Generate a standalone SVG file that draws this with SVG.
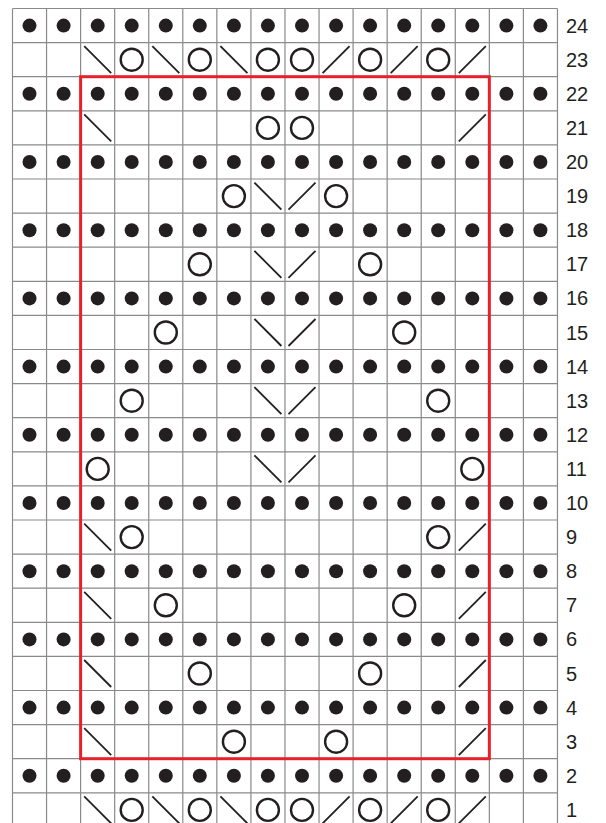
<svg xmlns="http://www.w3.org/2000/svg" xmlns:xlink="http://www.w3.org/1999/xlink" width="606" height="823" viewBox="0 0 606 823">
<style>
.grid{fill:none;stroke:#8a8a8a;stroke-width:1.2}
.dot{fill:#231f20}
.yo{fill:none;stroke:#231f20;stroke-width:2.4}
.dec{stroke:#231f20;stroke-width:1.8;stroke-linecap:butt}
.num{font-family:"Liberation Sans",Arial,sans-serif;font-size:20px;fill:#231f20}
.frame{fill:none;stroke:#e8202a;stroke-width:3}
</style>
<defs>
<circle id="d" class="dot" r="7"/>
<circle id="o" class="yo" r="11"/>
<line id="ssk" class="dec" x1="-13.5" y1="-13.5" x2="13.5" y2="13.5"/>
<line id="k2" class="dec" x1="-13.5" y1="13.5" x2="13.5" y2="-13.5"/>
<g id="dotrow">
<use href="#d" x="29.5"/><use href="#d" x="63.6"/><use href="#d" x="97.7"/><use href="#d" x="131.7"/>
<use href="#d" x="165.8"/><use href="#d" x="199.8"/><use href="#d" x="233.9"/><use href="#d" x="267.9"/>
<use href="#d" x="302"/><use href="#d" x="336.1"/><use href="#d" x="370.1"/><use href="#d" x="404.2"/>
<use href="#d" x="438.2"/><use href="#d" x="472.3"/><use href="#d" x="506.4"/><use href="#d" x="540.4"/>
</g>
<g id="edgerow">
<use href="#ssk" x="97.7"/><use href="#o" x="131.7"/><use href="#ssk" x="165.8"/><use href="#o" x="199.8"/>
<use href="#ssk" x="233.9"/><use href="#o" x="267.9"/><use href="#o" x="302"/><use href="#k2" x="336.1"/>
<use href="#o" x="370.1"/><use href="#k2" x="404.2"/><use href="#o" x="438.2"/><use href="#k2" x="472.3"/>
</g>
</defs>
<rect width="606" height="823" fill="#fff"/>
<g id="grid">
<path class="grid" d="M12.5 8.5V830M46.56 8.5V830M80.62 8.5V830M114.68 8.5V830M148.74 8.5V830M182.8 8.5V830M216.86 8.5V830M250.92 8.5V830M284.98 8.5V830M319.04 8.5V830M353.1 8.5V830M387.16 8.5V830M421.22 8.5V830M455.28 8.5V830M489.34 8.5V830M523.4 8.5V830M557.46 8.5V830
M12.5 8.5H557.46M12.5 42.6H557.46M12.5 76.7H557.46M12.5 110.8H557.46M12.5 144.9H557.46M12.5 179H557.46M12.5 213.1H557.46M12.5 247.2H557.46M12.5 281.3H557.46M12.5 315.4H557.46M12.5 349.5H557.46M12.5 383.6H557.46M12.5 417.7H557.46M12.5 451.8H557.46M12.5 485.9H557.46M12.5 520H557.46M12.5 554.1H557.46M12.5 588.2H557.46M12.5 622.3H557.46M12.5 656.4H557.46M12.5 690.5H557.46M12.5 724.6H557.46M12.5 758.7H557.46M12.5 792.8H557.46"/>
</g>
<g id="purl-rows">
<use href="#dotrow" y="25.6"/><use href="#dotrow" y="93.8"/><use href="#dotrow" y="162"/><use href="#dotrow" y="230.2"/>
<use href="#dotrow" y="298.4"/><use href="#dotrow" y="366.6"/><use href="#dotrow" y="434.8"/><use href="#dotrow" y="503"/>
<use href="#dotrow" y="571.2"/><use href="#dotrow" y="639.4"/><use href="#dotrow" y="707.6"/><use href="#dotrow" y="775.8"/>
</g>
<g id="row23"><use href="#edgerow" y="59.7"/></g>
<g id="row21"><use href="#ssk" x="97.7" y="127.9"/><use href="#o" x="267.9" y="127.9"/><use href="#o" x="302" y="127.9"/><use href="#k2" x="472.3" y="127.9"/></g>
<g id="row19"><use href="#o" x="233.9" y="196.1"/><use href="#ssk" x="267.9" y="196.1"/><use href="#k2" x="302" y="196.1"/><use href="#o" x="336.1" y="196.1"/></g>
<g id="row17"><use href="#o" x="199.8" y="264.3"/><use href="#ssk" x="267.9" y="264.3"/><use href="#k2" x="302" y="264.3"/><use href="#o" x="370.1" y="264.3"/></g>
<g id="row15"><use href="#o" x="165.8" y="332.5"/><use href="#ssk" x="267.9" y="332.5"/><use href="#k2" x="302" y="332.5"/><use href="#o" x="404.2" y="332.5"/></g>
<g id="row13"><use href="#o" x="131.7" y="400.7"/><use href="#ssk" x="267.9" y="400.7"/><use href="#k2" x="302" y="400.7"/><use href="#o" x="438.2" y="400.7"/></g>
<g id="row11"><use href="#o" x="97.7" y="468.9"/><use href="#ssk" x="267.9" y="468.9"/><use href="#k2" x="302" y="468.9"/><use href="#o" x="472.3" y="468.9"/></g>
<g id="row9"><use href="#ssk" x="97.7" y="537.1"/><use href="#o" x="131.7" y="537.1"/><use href="#o" x="438.2" y="537.1"/><use href="#k2" x="472.3" y="537.1"/></g>
<g id="row7"><use href="#ssk" x="97.7" y="605.3"/><use href="#o" x="165.8" y="605.3"/><use href="#o" x="404.2" y="605.3"/><use href="#k2" x="472.3" y="605.3"/></g>
<g id="row5"><use href="#ssk" x="97.7" y="673.5"/><use href="#o" x="199.8" y="673.5"/><use href="#o" x="370.1" y="673.5"/><use href="#k2" x="472.3" y="673.5"/></g>
<g id="row3"><use href="#ssk" x="97.7" y="741.7"/><use href="#o" x="233.9" y="741.7"/><use href="#o" x="336.1" y="741.7"/><use href="#k2" x="472.3" y="741.7"/></g>
<g id="row1"><use href="#edgerow" y="809.9"/></g>
<g id="repeat"><rect class="frame" x="80.62" y="76.7" width="408.72" height="682"/></g>
<g id="row-numbers" class="num">
<text x="566" y="32.6">24</text><text x="566" y="66.7">23</text><text x="566" y="100.8">22</text><text x="566" y="134.9">21</text>
<text x="566" y="169">20</text><text x="566" y="203.1">19</text><text x="566" y="237.2">18</text><text x="566" y="271.3">17</text>
<text x="566" y="305.4">16</text><text x="566" y="339.5">15</text><text x="566" y="373.6">14</text><text x="566" y="407.7">13</text>
<text x="566" y="441.8">12</text><text x="566" y="475.9">11</text><text x="566" y="510">10</text><text x="566" y="544.1">9</text>
<text x="566" y="578.2">8</text><text x="566" y="612.3">7</text><text x="566" y="646.4">6</text><text x="566" y="680.5">5</text>
<text x="566" y="714.6">4</text><text x="566" y="748.7">3</text><text x="566" y="782.8">2</text><text x="566" y="816.9">1</text>
</g>
</svg>
